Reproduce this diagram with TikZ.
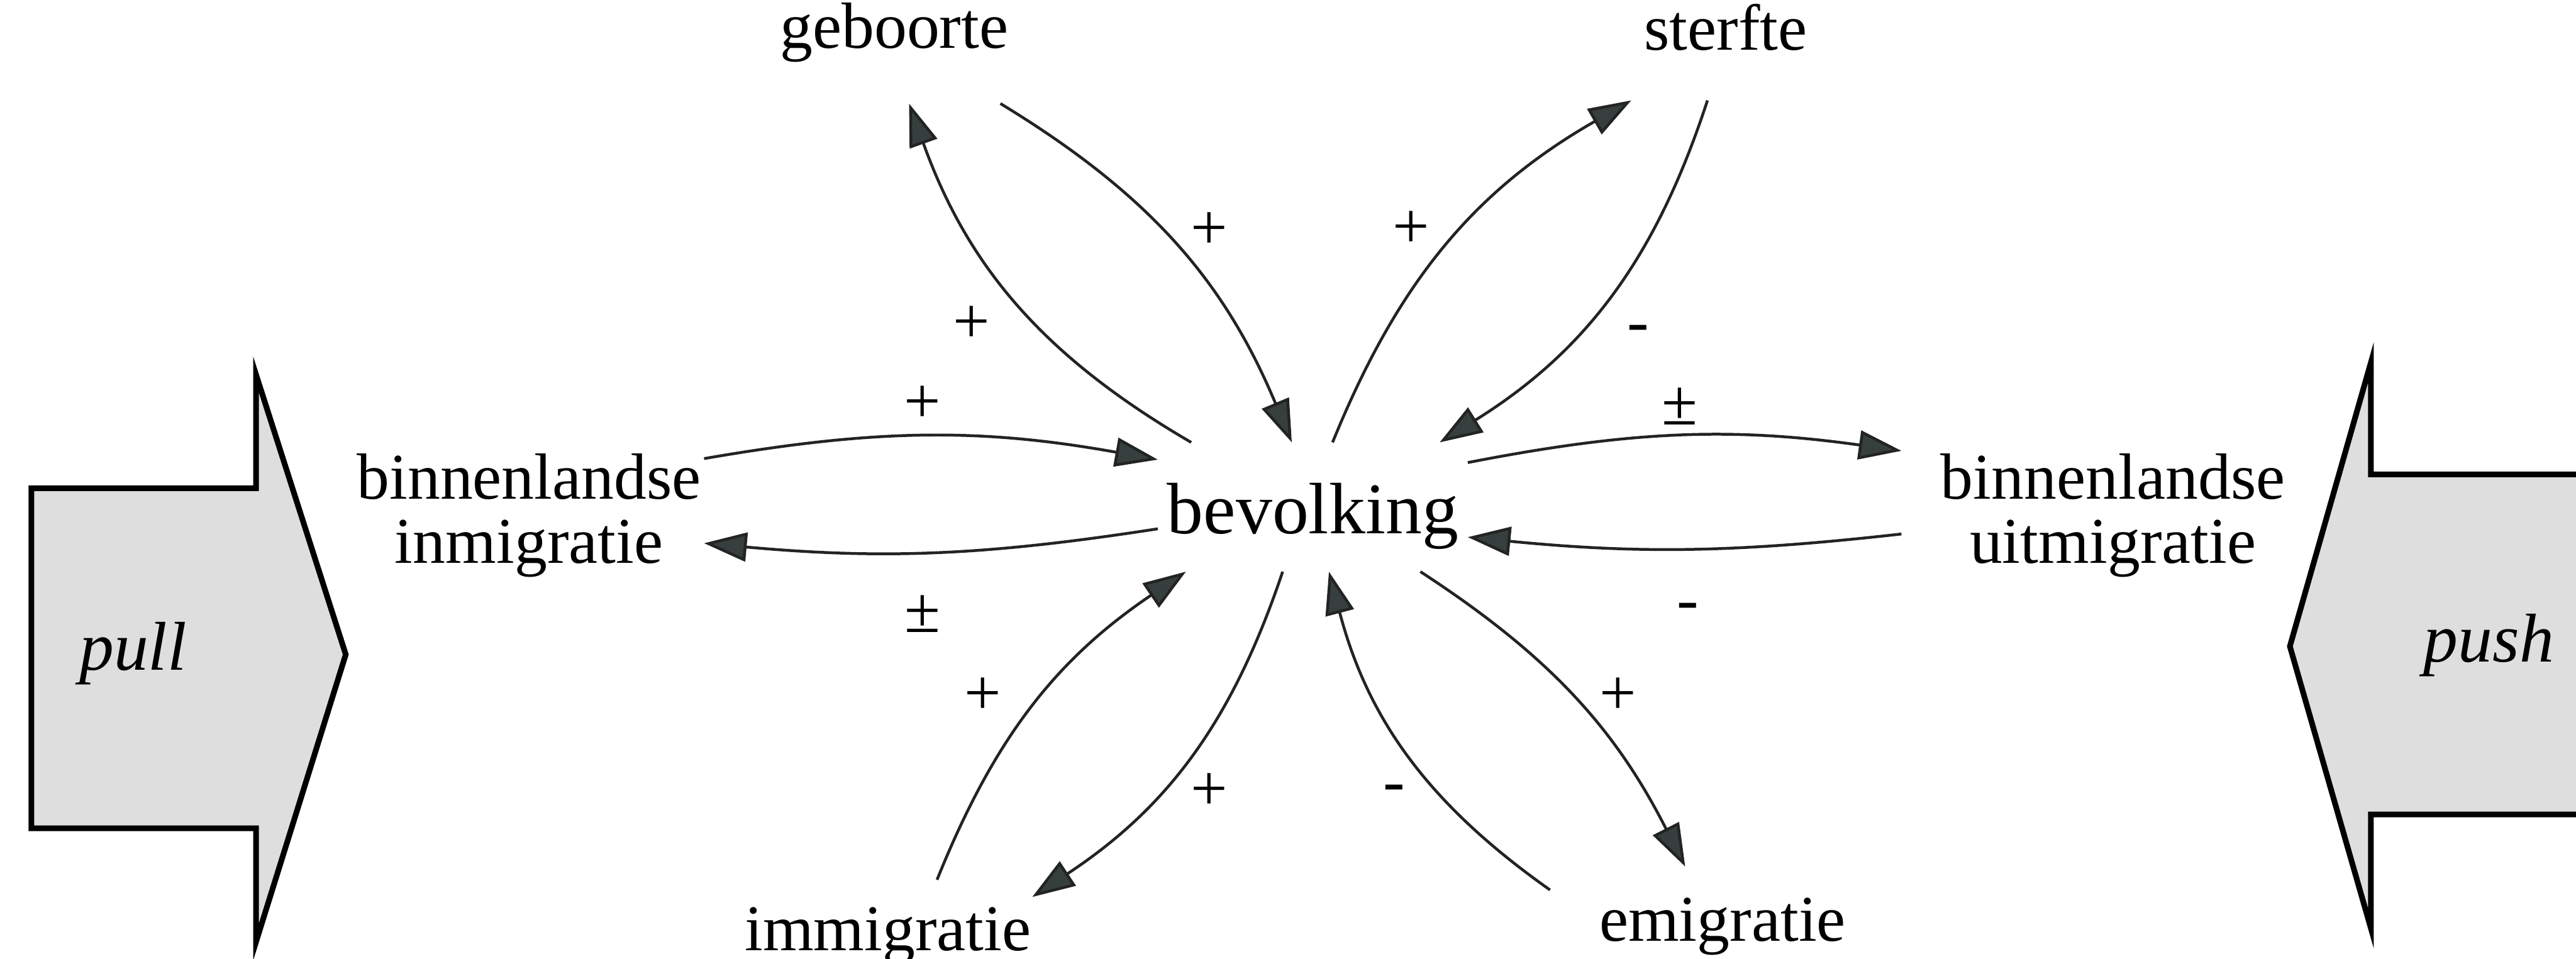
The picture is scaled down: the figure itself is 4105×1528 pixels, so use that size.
\documentclass[tikz,border=0pt]{standalone}
\usepackage{fontspec}
\setmainfont{Liberation Serif}
\usetikzlibrary{arrows.meta}
\definecolor{tipgray}{RGB}{55,62,62}
\definecolor{linegray}{RGB}{35,35,35}
\definecolor{blockfill}{RGB}{222,222,222}
\begin{document}
\begin{tikzpicture}[x=0.1pt,y=0.1pt,
  every node/.style={inner sep=0pt,outer sep=0pt},
  term/.style={font=\fontsize{10.4}{10.2}\selectfont},
  twoline/.style={font=\fontsize{10.4}{10.2}\selectfont, align=center},
  conn/.style={draw=linegray, line width=0.45pt,
    -{Triangle[length=6.8pt,width=4.6pt,fill=tipgray]}},
  sign/.style={font=\fontsize{10.4}{12}\selectfont},
  block/.style={draw=black, line width=0.9pt, fill=blockfill, line join=miter},
  blocktxt/.style={font=\fontsize{11}{13}\selectfont\itshape}]
\useasboundingbox (0,0) rectangle (4105,-1528);
\clip (0,0) rectangle (4105,-1528);

% push / pull block arrows
\draw[block] (50,-778) -- (408,-778) -- (408,-597) -- (551,-1043) -- (408,-1501) -- (408,-1320) -- (50,-1320) -- cycle;
\draw[block] (4130,-756) -- (3778,-756) -- (3778,-578) -- (3649,-1030) -- (3778,-1479) -- (3778,-1298) -- (4130,-1298) -- cycle;
\node[blocktxt, anchor=base] (pulltxt) at (212,-1068) {pull};
\node[blocktxt, anchor=base] (pushtxt) at (3966,-1055) {push};

% terms
\node[term, minimum width=35pt, minimum height=16.5pt, text height=1.2pt, text depth=2.3pt] (geb) at (1425,-82.5) {geboorte};
\node[term, minimum width=32pt, minimum height=16pt, text height=2.3pt, text depth=2.3pt] (ster) at (2750,-80) {sterfte};
\node[font=\fontsize{11.6}{13}\selectfont, minimum width=49.4pt, minimum height=20.6pt, text height=10.9pt, text depth=2.5pt] (bev) at (2092,-808) {bevolking};
\node[twoline, minimum width=55.8pt, minimum height=23pt] (inmig) at (843,-821.5) {binnenlandse\\inmigratie};
\node[twoline, minimum width=67.4pt, minimum height=23pt] (uit) at (3367,-821.5) {binnenlandse\\uitmigratie};
\node[term, minimum width=46pt, minimum height=7pt, text height=11.3pt, text depth=2.3pt] (immig) at (1415,-1470) {immigratie};
\node[term, minimum width=55pt, minimum height=14pt, text height=11.9pt, text depth=2.3pt] (emig) at (2745,-1452) {emigratie};

% connectors
\draw[conn] (bev.152.9) to[bend left=20] (geb.286.9);
\draw[conn] (geb.334.0) to[bend left=18] (bev.108.3);
\draw[conn] (bev.73.8) to[bend left=19] (ster.208.55);
\draw[conn] (ster.250.7) to[bend left=20] (bev.27.5);
\draw[conn] (inmig.18.1) to[bend left=10] (bev.163.9);
\draw[conn] (bev.188.6) to[bend left=7] (inmig.351.7);
\draw[conn] (bev.16.6) to[bend left=9.5] (uit.163.7);
\draw[conn] (uit.185.6) to[bend left=6] (bev.349.9);
\draw[conn] (immig.41.2) to[bend left=17] (bev.207.2);
\draw[conn] (bev.245.7) to[bend left=19] (immig.10.5);
\draw[conn] (emig.173.4) to[bend left=20] (bev.284.6);
\draw[conn] (bev.329.6) to[bend left=15] (emig.130.8);

% polarity signs
\node[sign] (s1) at (1927,-368) {+};
\node[sign] (s2) at (1548,-517) {+};
\node[sign] (s3) at (1470,-645) {+};
\node[sign] (s4) at (2249,-366) {+};
\node[sign] (s5) at (2610,-532) {-};
\node[sign] (s6) at (2677,-648) {±};
\node[sign] (s7) at (1470,-978) {±};
\node[sign] (s8) at (2690,-975) {-};
\node[sign] (s9) at (1566,-1110) {+};
\node[sign] (s10) at (1927,-1262) {+};
\node[sign] (s11) at (2222,-1265) {-};
\node[sign] (s12) at (2578,-1110) {+};
\end{tikzpicture}
\end{document}
